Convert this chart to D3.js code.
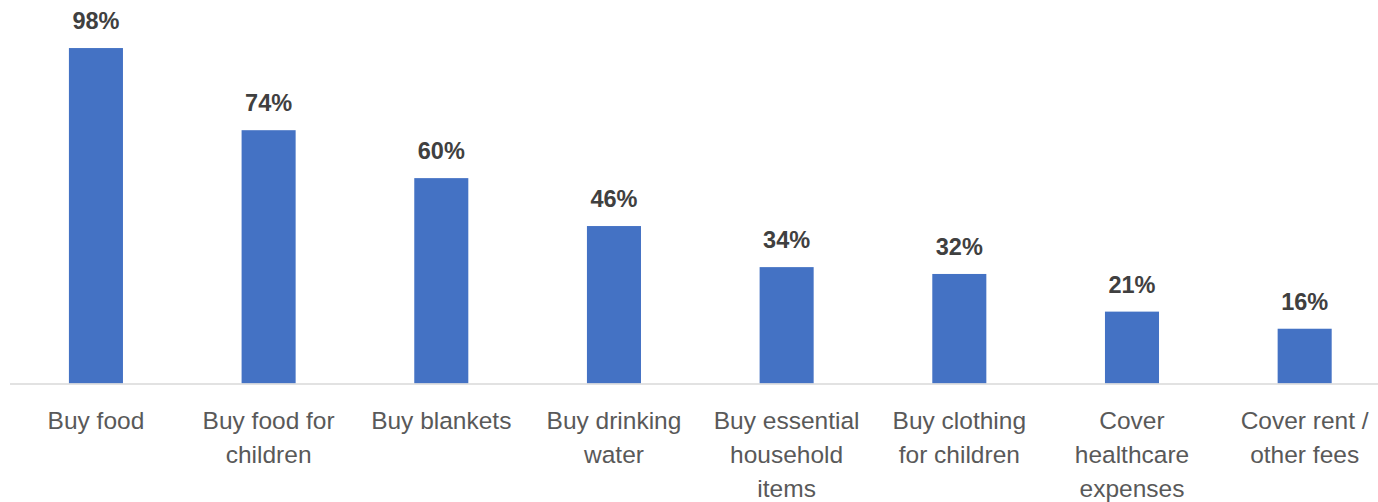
<!DOCTYPE html>
<html>
<head>
<meta charset="utf-8">
<script src="https://cdn.jsdelivr.net/npm/d3@7"></script>
<style>
    body { margin: 0; background: #fff; }
    #chart svg { display: block; }
</style>
</head>
<body>
<div id="chart"></div>
<script>
// categories (lines split with \n the way the picture wraps them)
var categories = [
    "Buy food",
    "Buy food for\nchildren",
    "Buy blankets",
    "Buy drinking\nwater",
    "Buy essential\nhousehold\nitems",
    "Buy clothing\nfor children",
    "Cover\nhealthcare\nexpenses",
    "Cover rent /\nother fees"
];
var percents = [98, 74, 60, 46, 34, 32, 21, 16];

var svgWidth = 1378;
var svgHeight = 502;

var svg = d3.select("#chart")
    .append("svg")
    .attr("width", svgWidth)
    .attr("height", svgHeight);

var xScale = d3.scaleBand()
    .domain(categories)
    .range([9.6, 1391])
    .paddingInner(0.687)
    .paddingOuter(0.3435);

var yScale = d3.scaleLinear()
    .domain([0, 100])
    .range([383.5, 41.2]);

// bars
svg.append("g")
    .selectAll("rect")
    .data(percents)
    .enter()
    .append("rect")
    .attr("x", (d, i) => xScale(categories[i]))
    .attr("y", d => yScale(d))
    .attr("width", xScale.bandwidth())
    .attr("height", d => yScale(0) - yScale(d))
    .attr("fill", "#4472C4");

// baseline
svg.append("line")
    .attr("x1", 10)
    .attr("x2", svgWidth)
    .attr("y1", yScale(0) + 0.5)
    .attr("y2", yScale(0) + 0.5)
    .attr("stroke", "#d9d9d9")
    .attr("stroke-width", 1.5);

// value labels
svg.append("g")
    .selectAll("text")
    .data(percents)
    .enter()
    .append("text")
    .attr("x", (d, i) => xScale(categories[i]) + xScale.bandwidth() / 2)
    .attr("y", d => yScale(d) - 19)
    .attr("text-anchor", "middle")
    .attr("font-family", "'Liberation Sans', Arial, sans-serif")
    .attr("font-weight", "bold")
    .attr("font-size", "23.5px")
    .attr("fill", "#404040")
    .text(d => d + "%");

// category labels
var catLabels = svg.append("g")
    .selectAll("text")
    .data(categories)
    .enter()
    .append("text")
    .attr("x", d => xScale(d) + xScale.bandwidth() / 2)
    .attr("y", 429)
    .attr("text-anchor", "middle")
    .attr("font-family", "'Liberation Sans', Arial, sans-serif")
    .attr("font-size", "24.5px")
    .attr("fill", "#595959");

catLabels.each(function(d) {
    var el = d3.select(this);
    var x = el.attr("x");
    d.split("\n").forEach(function(line, k) {
        el.append("tspan")
            .attr("x", x)
            .attr("dy", k === 0 ? 0 : 34)
            .text(line);
    });
});
</script>
</body>
</html>
